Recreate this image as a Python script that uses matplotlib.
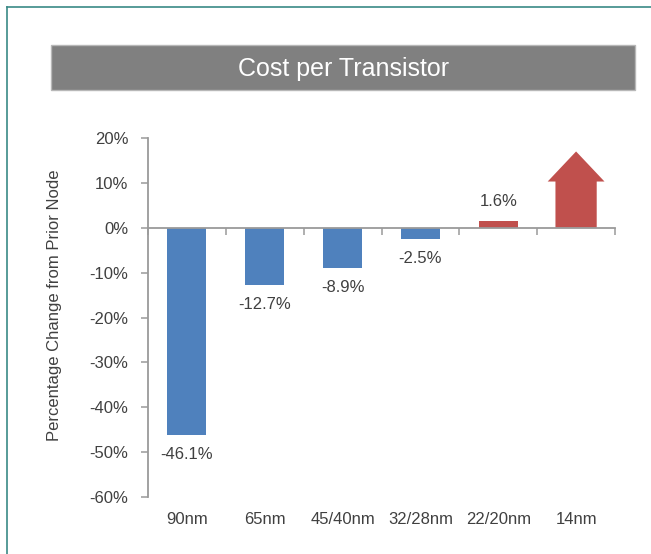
import matplotlib.pyplot as plt
from matplotlib.lines import Line2D
from matplotlib.patches import Rectangle
from matplotlib.transforms import blended_transform_factory

plt.rcParams['font.family'] = ['Liberation Sans', 'DejaVu Sans']

nodes = ['90nm', '65nm', '45/40nm', '32/28nm', '22/20nm', '14nm']
changes = [-46.1, -12.7, -8.9, -2.5, 1.6]      # last node has no value, shown as an arrow
arrow_top = 17.0
y_ticks = [20, 10, 0, -10, -20, -30, -40, -50, -60]

BLUE = '#4f81bd'
RED = '#c0504d'
TEXT = '#404040'
AXIS = '#9a9a9a'


def plot_cost_per_transistor():
    fig = plt.figure(figsize=(6.51, 5.54), dpi=100)
    ax = fig.add_axes([148 / 651, 1 - 497 / 554, 467 / 651, 359 / 554])

    # outer frame (teal lines, top and left)
    fig.add_artist(Line2D([7 / 651, 1], [1 - 7 / 554] * 2, color='#3a8a86', lw=1.2))
    fig.add_artist(Line2D([7 / 651] * 2, [0, 1 - 7 / 554], color='#3a8a86', lw=1.2))

    # title banner
    fig.add_artist(Rectangle((51 / 651, 1 - 90 / 554), 584 / 651, 45 / 554,
                             transform=fig.transFigure, facecolor='#808080',
                             edgecolor='#b8b8b8', lw=1.0))
    fig.text(344 / 651, 1 - 69 / 554, 'Cost per Transistor', color='white',
             fontsize=18, ha='center', va='center')

    xs = list(range(len(changes)))
    colors = [BLUE if v < 0 else RED for v in changes]
    ax.bar(xs, changes, width=0.5, color=colors, zorder=2)

    for x, v in zip(xs, changes):
        off = -9 if v < 0 else 8
        ax.annotate(f'{v:.1f}%', (x, v), xytext=(0, off), textcoords='offset points',
                    ha='center', va='top' if v < 0 else 'bottom',
                    fontsize=12, color=TEXT)

    # 14nm: off the chart, drawn as an up arrow
    ax.arrow(len(changes), 0, 0, arrow_top, width=0.53, head_width=0.73,
             head_length=6.7, length_includes_head=True,
             facecolor=RED, edgecolor=RED, lw=0, zorder=2)

    ax.set_xlim(-0.5, len(nodes) - 0.5)
    ax.set_ylim(-60, 20)
    ax.set_yticks(y_ticks)
    ax.set_yticklabels([f'{t}%' for t in y_ticks])

    # x axis sits at zero, ticks between categories
    ax.spines['bottom'].set_position(('data', 0))
    ax.set_xticks([i + 0.5 for i in range(-1, len(nodes))])
    ax.set_xticklabels([])
    trans = blended_transform_factory(ax.transData, ax.transAxes)
    for i, name in enumerate(nodes):
        ax.text(i, -0.064, name, transform=trans, ha='center', va='center',
                fontsize=12, color=TEXT)

    for side in ['top', 'right']:
        ax.spines[side].set_visible(False)
    for side in ['left', 'bottom']:
        ax.spines[side].set_color(AXIS)
        ax.spines[side].set_linewidth(1.3)
    ax.tick_params(axis='y', direction='out', length=5, width=1.1, color=AXIS,
                   labelsize=12, labelcolor=TEXT, pad=9)
    ax.tick_params(axis='x', direction='out', length=5, width=1.1, color=AXIS)

    ax.text(-0.2, 0.535, 'Percentage Change from Prior Node', transform=ax.transAxes,
            rotation=90, ha='center', va='center', fontsize=12, color=TEXT)

    fig.savefig('out.png', dpi=100)


if __name__ == '__main__':
    plot_cost_per_transistor()
